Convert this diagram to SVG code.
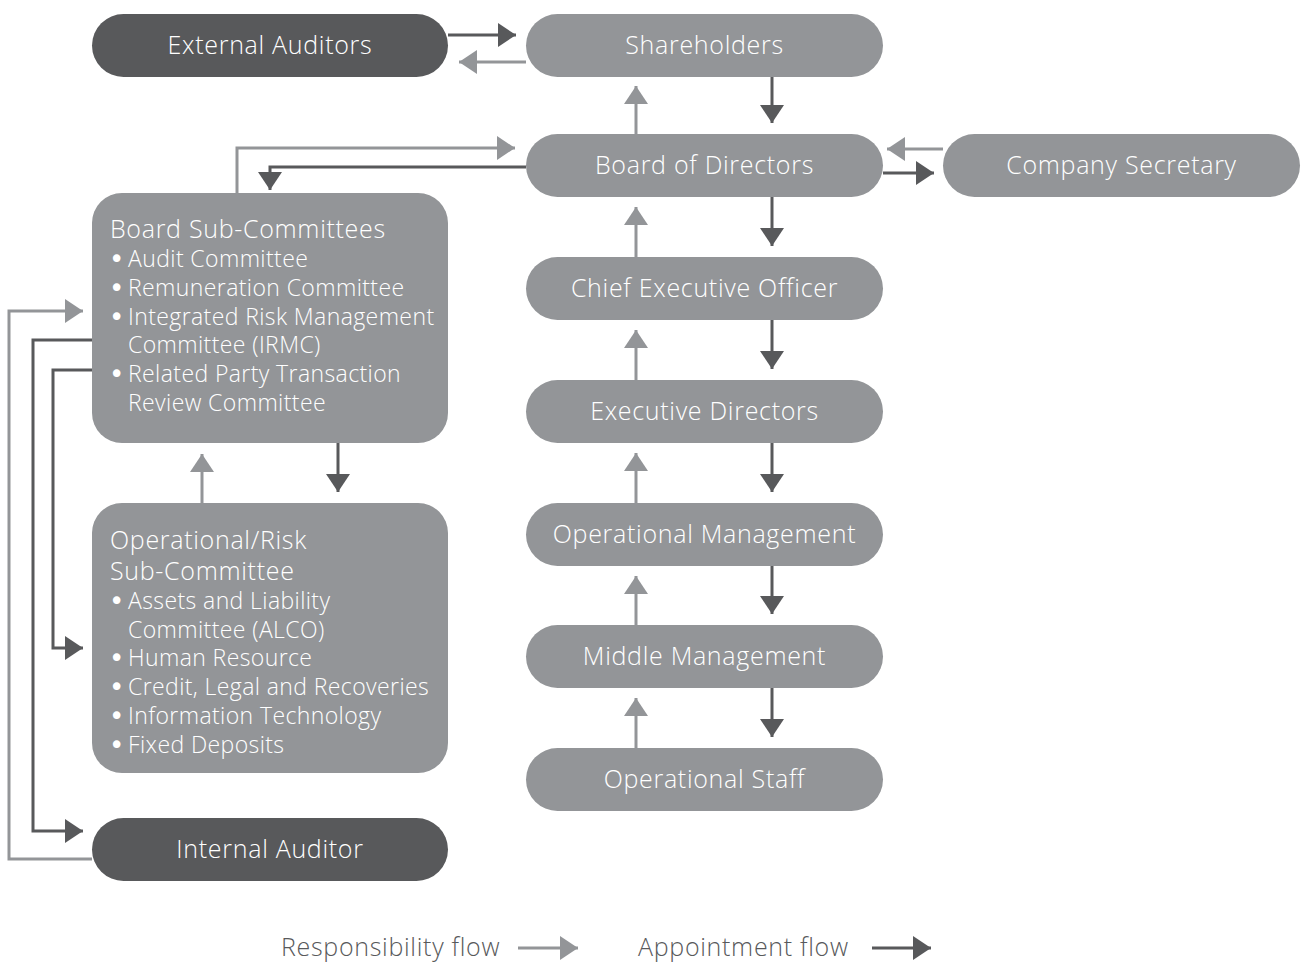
<svg xmlns="http://www.w3.org/2000/svg" width="1303" height="963" viewBox="0 0 1303 963">
<defs>
<style>
.lt{fill:#939598}
.dk{fill:#58595b}
.lbl{font-family:"Open Sans",Lato,"DejaVu Sans",sans-serif;font-weight:300;font-size:25px;letter-spacing:0.7px;fill:#ffffff;text-anchor:middle}
.tl{font-family:"Open Sans",Lato,"DejaVu Sans",sans-serif;font-weight:300;font-size:25px;letter-spacing:0.7px;fill:#ffffff}
.bl{font-family:"Open Sans",Lato,"DejaVu Sans",sans-serif;font-weight:300;font-size:23px;letter-spacing:0.4px;fill:#ffffff}
.bu{font-family:"DejaVu Sans",sans-serif;font-size:26px;fill:#ffffff}
.lg{font-family:"Open Sans",Lato,"DejaVu Sans",sans-serif;font-weight:300;font-size:25px;letter-spacing:0.7px;fill:#58595b}
.cl{fill:none;stroke:#939598;stroke-width:3;marker-end:url(#ml)}
.cd{fill:none;stroke:#58595b;stroke-width:3;marker-end:url(#md)}
</style>
<marker id="ml" markerUnits="userSpaceOnUse" markerWidth="18" markerHeight="24" refX="18" refY="12" orient="auto" viewBox="0 0 18 24"><path d="M0,0 L18,12 L0,24 Z" fill="#939598"/></marker>
<marker id="md" markerUnits="userSpaceOnUse" markerWidth="18" markerHeight="24" refX="18" refY="12" orient="auto" viewBox="0 0 18 24"><path d="M0,0 L18,12 L0,24 Z" fill="#58595b"/></marker>
</defs>
<rect width="1303" height="963" fill="#ffffff"/>
<g id="connectors">
<path class="cd" d="M448,35 H516"/>
<path class="cl" d="M526,62 H459"/>
<path class="cl" d="M636,134 V86"/>
<path class="cd" d="M772,77 V123"/>
<path class="cl" d="M237,193 V148 H515"/>
<path class="cd" d="M526,167 H270 V190"/>
<path class="cd" d="M883,173 H934"/>
<path class="cl" d="M943,149 H887"/>
<path class="cl" d="M636,257 V207"/>
<path class="cd" d="M772,197 V246"/>
<path class="cl" d="M636,380 V330"/>
<path class="cd" d="M772,320 V369"/>
<path class="cl" d="M636,503 V453"/>
<path class="cd" d="M772,443 V492"/>
<path class="cl" d="M636,625 V576"/>
<path class="cd" d="M772,566 V614"/>
<path class="cl" d="M636,748 V698"/>
<path class="cd" d="M772,688 V737"/>
<path class="cl" d="M202,503 V454"/>
<path class="cd" d="M338,443 V492"/>
<path class="cl" d="M92,859 H9 V311 H83"/>
<path class="cd" d="M92,340 H33 V831 H83"/>
<path class="cd" d="M92,370 H53 V648 H83"/>
</g>
<g id="external-auditors"><rect class="dk" x="92" y="14" width="356" height="63" rx="31.5"/><text class="lbl" x="270" y="54">External Auditors</text></g>
<g id="shareholders"><rect class="lt" x="526" y="14" width="357" height="63" rx="31.5"/><text class="lbl" x="704.5" y="54">Shareholders</text></g>
<g id="board-of-directors"><rect class="lt" x="526" y="134" width="357" height="63" rx="31.5"/><text class="lbl" x="704.5" y="174">Board of Directors</text></g>
<g id="company-secretary"><rect class="lt" x="943" y="134" width="357" height="63" rx="31.5"/><text class="lbl" x="1121.5" y="174">Company Secretary</text></g>
<g id="ceo"><rect class="lt" x="526" y="257" width="357" height="63" rx="31.5"/><text class="lbl" x="704.5" y="297">Chief Executive Officer</text></g>
<g id="executive-directors"><rect class="lt" x="526" y="380" width="357" height="63" rx="31.5"/><text class="lbl" x="704.5" y="420">Executive Directors</text></g>
<g id="operational-management"><rect class="lt" x="526" y="503" width="357" height="63" rx="31.5"/><text class="lbl" x="704.5" y="543">Operational Management</text></g>
<g id="middle-management"><rect class="lt" x="526" y="625" width="357" height="63" rx="31.5"/><text class="lbl" x="704.5" y="665">Middle Management</text></g>
<g id="operational-staff"><rect class="lt" x="526" y="748" width="357" height="63" rx="31.5"/><text class="lbl" x="704.5" y="788">Operational Staff</text></g>
<g id="board-sub-committees"><rect class="lt" x="92" y="193" width="356" height="250" rx="30"/>
<text class="tl" x="110" y="238">Board Sub-Committees</text>
<text class="bu" x="109" y="268">•</text><text class="bl" x="128" y="267">Audit Committee</text>
<text class="bu" x="109" y="297">•</text><text class="bl" x="128" y="296">Remuneration Committee</text>
<text class="bu" x="109" y="326">•</text><text class="bl" x="128" y="325">Integrated Risk Management</text>
<text class="bl" x="128" y="353">Committee (IRMC)</text>
<text class="bu" x="109" y="383">•</text><text class="bl" x="128" y="382">Related Party Transaction</text>
<text class="bl" x="128" y="411">Review Committee</text>
</g>
<g id="operational-risk-sub-committee"><rect class="lt" x="92" y="503" width="356" height="270" rx="30"/>
<text class="tl" x="110" y="549">Operational/Risk</text>
<text class="tl" x="110" y="580">Sub-Committee</text>
<text class="bu" x="109" y="610">•</text><text class="bl" x="128" y="609">Assets and Liability</text>
<text class="bl" x="128" y="638">Committee (ALCO)</text>
<text class="bu" x="109" y="667">•</text><text class="bl" x="128" y="666">Human Resource</text>
<text class="bu" x="109" y="696">•</text><text class="bl" x="128" y="695">Credit, Legal and Recoveries</text>
<text class="bu" x="109" y="725">•</text><text class="bl" x="128" y="724">Information Technology</text>
<text class="bu" x="109" y="754">•</text><text class="bl" x="128" y="753">Fixed Deposits</text>
</g>
<g id="internal-auditor"><rect class="dk" x="92" y="818" width="356" height="63" rx="31.5"/><text class="lbl" x="270" y="858">Internal Auditor</text></g>
<g id="legend">
<text class="lg" x="281" y="956">Responsibility flow</text>
<path class="cl" d="M518,948 H578"/>
<text class="lg" x="638" y="956">Appointment flow</text>
<path class="cd" d="M872,948 H931"/>
</g>
</svg>
